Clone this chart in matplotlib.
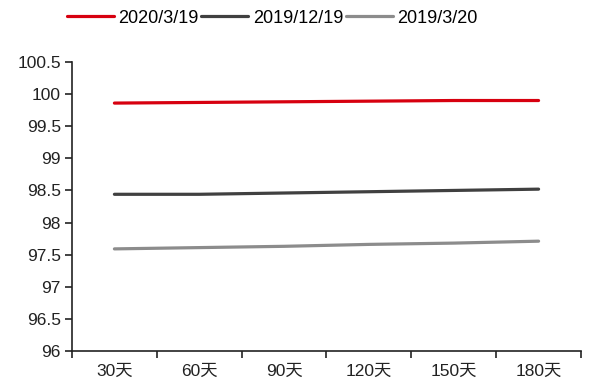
import numpy as np
import matplotlib
matplotlib.use('Agg')
import matplotlib.pyplot as plt

plt.rcParams['font.family'] = ['Liberation Sans', 'Noto Sans CJK SC']

categories = ['30天', '60天', '90天', '120天', '150天', '180天']
series_names = ['2020/3/19', '2019/12/19', '2019/3/20']
red_vals = [99.86, 99.87, 99.88, 99.89, 99.90, 99.90]
dark_vals = [98.44, 98.44, 98.46, 98.48, 98.50, 98.52]
gray_vals = [97.59, 97.61, 97.63, 97.66, 97.68, 97.71]
y_ticks = [96, 96.5, 97, 97.5, 98, 98.5, 99, 99.5, 100, 100.5]
y_labels = ['96', '96.5', '97', '97.5', '98', '98.5', '99', '99.5', '100', '100.5']

colors = ['#d7000f', '#404040', '#8c8c8c']

fig = plt.figure(figsize=(6.02, 3.85), dpi=100)
ax = fig.add_axes([0.1196, 0.0883, 0.8455, 0.7507])

x = np.arange(len(categories)) + 0.5
for vals, name, col in zip([red_vals, dark_vals, gray_vals], series_names, colors):
    ax.plot(x, vals, color=col, linewidth=2.3, label=name, solid_capstyle='round')

ax.set_xlim(0, len(categories))
ax.set_ylim(96, 100.5)
ax.set_yticks(y_ticks)
ax.set_yticklabels(y_labels)

ax.set_xticks(np.arange(len(categories) + 1))
ax.set_xticklabels([])
ax.set_xticks(x, minor=True)
ax.set_xticklabels(categories, minor=True)
ax.tick_params(axis='both', which='both', labelsize=12.5, colors='#222222')
ax.tick_params(axis='x', which='minor', length=0, pad=9)
ax.tick_params(axis='x', which='major', length=5, width=1.2)
ax.tick_params(axis='y', length=5, width=1.2, pad=3)

for s in ['top', 'right']:
    ax.spines[s].set_visible(False)
for s in ['left', 'bottom']:
    ax.spines[s].set_linewidth(1.2)
    ax.spines[s].set_color('#222222')

fig.legend(loc='center', bbox_to_anchor=(0.452, 0.953), ncol=3, frameon=False,
           fontsize=13, handlelength=2.6, handletextpad=0.25, columnspacing=0.15,
           borderpad=0, borderaxespad=0)

fig.savefig('out.png', dpi=100, facecolor='white')
